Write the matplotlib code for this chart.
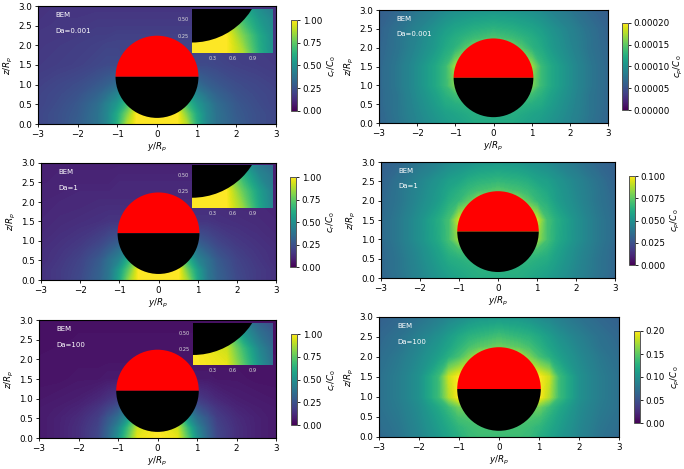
import numpy as np
import matplotlib
matplotlib.use("Agg")
import matplotlib.pyplot as plt
from matplotlib.cm import ScalarMappable
from matplotlib.colors import Normalize
from matplotlib.patches import Wedge

W, H = 684, 469
y_half = [0, .5, .75, 1, 1.25, 1.5, 2, 2.5, 3]
z_rows = [0, .25, .5, .75, 1, 1.5, 2, 2.25, 2.5, 3]

cr_da0001 = [
 [1.0, 1.0, .88, .62, .46, .37, .29, .24, .21],
 [1.0, 1.0, .80, .60, .46, .37, .28, .24, .21],
 [1.0, .90, .68, .53, .44, .35, .27, .23, .20],
 [1.0, .85, .58, .45, .37, .31, .25, .22, .20],
 [.40, .40, .40, .35, .30, .27, .23, .21, .19],
 [.20, .20, .20, .22, .22, .21, .19, .18, .17],
 [.20, .20, .20, .20, .20, .19, .18, .17, .16],
 [.19, .19, .19, .19, .18, .18, .17, .16, .16],
 [.17, .17, .17, .17, .17, .17, .16, .16, .15],
 [.15, .15, .15, .15, .15, .15, .15, .15, .14]]
cr_da1 = [
 [1.0, 1.0, .84, .58, .40, .31, .22, .17, .14],
 [1.0, 1.0, .76, .55, .39, .30, .21, .17, .14],
 [1.0, .88, .64, .45, .37, .28, .20, .16, .13],
 [1.0, .80, .50, .37, .30, .24, .18, .15, .13],
 [.30, .30, .30, .28, .24, .20, .16, .14, .12],
 [.14, .14, .14, .15, .15, .14, .13, .12, .11],
 [.12, .12, .12, .12, .12, .12, .11, .11, .10],
 [.11, .11, .11, .11, .11, .11, .11, .10, .10],
 [.11, .11, .11, .11, .10, .10, .10, .10, .09],
 [.09, .09, .09, .09, .09, .09, .09, .09, .09]]
cr_da100 = [
 [1.0, .96, .74, .50, .33, .21, .13, .09, .07],
 [1.0, .92, .68, .45, .31, .20, .13, .09, .07],
 [1.0, .80, .52, .36, .27, .18, .12, .09, .07],
 [.90, .70, .40, .26, .20, .15, .10, .08, .07],
 [.20, .20, .20, .17, .14, .11, .08, .07, .06],
 [.06, .06, .07, .07, .07, .06, .06, .05, .05],
 [.05, .05, .05, .05, .05, .05, .05, .05, .05],
 [.05, .05, .05, .05, .05, .05, .05, .05, .04],
 [.05, .05, .05, .05, .05, .05, .05, .04, .04],
 [.04, .04, .04, .04, .04, .04, .04, .04, .04]]
cp_da0001 = np.array([
 [.60, .60, .58, .56, .54, .51, .45, .38, .32],
 [.62, .62, .60, .58, .56, .53, .46, .39, .32],
 [.62, .64, .64, .62, .60, .55, .47, .39, .33],
 [.66, .68, .70, .68, .63, .57, .48, .39, .33],
 [.70, .70, .72, .80, .67, .60, .49, .40, .33],
 [.95, .95, .95, .85, .67, .60, .49, .40, .33],
 [.80, .80, .72, .64, .60, .54, .46, .38, .32],
 [.72, .68, .65, .62, .58, .53, .45, .38, .31],
 [.64, .62, .60, .58, .55, .51, .44, .37, .31],
 [.52, .51, .50, .49, .47, .44, .39, .33, .29]]) * 2e-4
cp_da1 = np.array([
 [.62, .62, .60, .58, .55, .52, .45, .38, .32],
 [.63, .63, .62, .60, .58, .54, .46, .39, .33],
 [.64, .65, .65, .63, .61, .56, .47, .39, .33],
 [.67, .69, .71, .70, .65, .58, .48, .40, .33],
 [.72, .72, .75, .85, .70, .61, .50, .41, .34],
 [1.0, 1.0, 1.0, .92, .70, .62, .50, .41, .34],
 [.85, .85, .74, .66, .62, .55, .47, .39, .33],
 [.74, .70, .67, .63, .59, .54, .46, .39, .32],
 [.66, .64, .62, .58, .56, .52, .45, .38, .31],
 [.53, .52, .50, .49, .47, .44, .39, .33, .30]]) * 0.1
cp_da100 = np.array([
 [.68, .68, .67, .62, .58, .53, .45, .38, .33],
 [.70, .70, .68, .65, .60, .55, .46, .39, .35],
 [.72, .72, .72, .70, .63, .57, .47, .40, .36],
 [.75, .78, .78, .78, .68, .60, .48, .41, .37],
 [.80, .85, .90, 1.0, .88, .68, .50, .42, .37],
 [1.0, 1.0, 1.0, 1.0, .92, .68, .50, .42, .37],
 [.90, .90, .80, .70, .63, .56, .47, .40, .35],
 [.78, .74, .70, .64, .58, .53, .45, .38, .34],
 [.70, .66, .64, .60, .55, .50, .43, .37, .33],
 [.53, .52, .50, .47, .45, .42, .37, .33, .30]]) * 0.2

labels = ["Da=0.001", "Da=1", "Da=100"]
cr_fields = [cr_da0001, cr_da1, cr_da100]
cp_fields = [cp_da0001, cp_da1, cp_da100]
cp_vmax = [2e-4, 0.1, 0.2]
cp_ticks = [[0, 5e-5, 1e-4, 1.5e-4, 2e-4], [0, .025, .05, .075, .1], [0, .05, .1, .15, .2]]
cp_fmt = ["%.5f", "%.3f", "%.2f"]
cp_pad = [1.0, 2.0, 2.5]
cr_ticks = [0, .25, .5, .75, 1]

# pixel boxes: left, right, top, bottom
L_boxes = [(38, 276, 6, 124), (41, 276, 163, 280), (39, 276, 320, 438)]
L_cbars = [(291, 297, 20, 111), (290, 296, 177, 267), (291, 297, 334, 425)]
R_boxes = [(379, 608, 10, 123), (381, 615, 162, 278), (379, 619, 317, 437)]
R_cbars = [(622, 628, 23, 110), (629, 635, 176, 265), (634, 640, 331, 423)]
L_insets = [(192, 273, 9, 53), (192, 273, 165, 208), (193, 273, 323, 365)]

R0, ZC = 1.045, 1.2
FS = 6.3

fig = plt.figure(figsize=(W / 100, H / 100), dpi=100)
plt.rcParams["mathtext.default"] = "it"


def add_ax(box):
    l, r, t, b = box
    return fig.add_axes([l / W, 1 - b / H, (r - l) / W, (b - t) / H])


yy = np.array([-v for v in y_half[:0:-1]] + y_half)
zz = np.array(z_rows, float)


def mesh(ax, field, vmax):
    a = np.asarray(field, float)
    full = np.hstack([a[:, :0:-1], a])
    norm = Normalize(0, vmax)
    ax.contourf(yy, zz, full, levels=np.linspace(0, vmax, 129), cmap="viridis",
                norm=norm, extend="both", antialiased=False)
    return ScalarMappable(norm=norm, cmap="viridis")


def panel(box, cbox, field, vmax, ticks, fmt, lab, cblab, lpad):
    ax = add_ax(box)
    m = mesh(ax, field, vmax)
    ax.add_patch(Wedge((0, ZC), R0, 0, 180, fc="red", ec="none", zorder=3))
    ax.add_patch(Wedge((0, ZC), R0, 180, 360, fc="black", ec="none", zorder=3))
    ax.set_xlim(-3, 3)
    ax.set_ylim(0, 3)
    ax.set_xticks([-3, -2, -1, 0, 1, 2, 3])
    ax.set_yticks([0, .5, 1, 1.5, 2, 2.5, 3])
    ax.tick_params(labelsize=FS, length=2.4, width=.6, pad=1.8)
    for s in ax.spines.values():
        s.set_linewidth(.8)
        s.set_zorder(6)
    ax.set_xlabel("$y/R_p$", fontsize=FS, labelpad=1.5)
    ax.set_ylabel("$z/R_p$", fontsize=FS, labelpad=2.5)
    ax.text(-2.55, 2.77, "BEM", color="white", fontsize=5.0, va="center", zorder=4)
    ax.text(-2.55, 2.37, lab, color="white", fontsize=5.0, va="center", zorder=4)
    cax = add_ax(cbox)
    cb = fig.colorbar(m, cax=cax, ticks=ticks, format=fmt)
    cb.ax.tick_params(labelsize=FS, length=2.4, width=.6, pad=1.8)
    cb.outline.set_linewidth(.7)
    cb.outline.set_edgecolor("#555555")
    cb.set_label(cblab, fontsize=FS, labelpad=lpad)
    return ax


def inset(box, field):
    ax = add_ax(box)
    ax.set_zorder(5)
    mesh(ax, field, 1)
    ax.add_patch(Wedge((0, ZC), R0, 180, 360, fc="black", ec="none", zorder=3))
    ax.set_xlim(0, 1.2)
    ax.set_ylim(0, .65)
    ax.set_xticks([.3, .6, .9])
    ax.set_yticks([.25, .5])
    ax.set_xticklabels(["0.3", "0.6", "0.9"])
    ax.set_yticklabels(["0.25", "0.50"])
    ax.tick_params(labelsize=3.6, length=0, pad=2.5, colors="#dddddd")
    for s in ax.spines.values():
        s.set_visible(False)


for i in range(3):
    panel(L_boxes[i], L_cbars[i], cr_fields[i], 1, cr_ticks, "%.2f", labels[i], "$c_r/C_0$", 2.5)
    inset(L_insets[i], cr_fields[i])
    panel(R_boxes[i], R_cbars[i], cp_fields[i], cp_vmax[i], cp_ticks[i], cp_fmt[i], labels[i], "$c_p/C_0$", cp_pad[i])

fig.savefig("out.png", dpi=100)
